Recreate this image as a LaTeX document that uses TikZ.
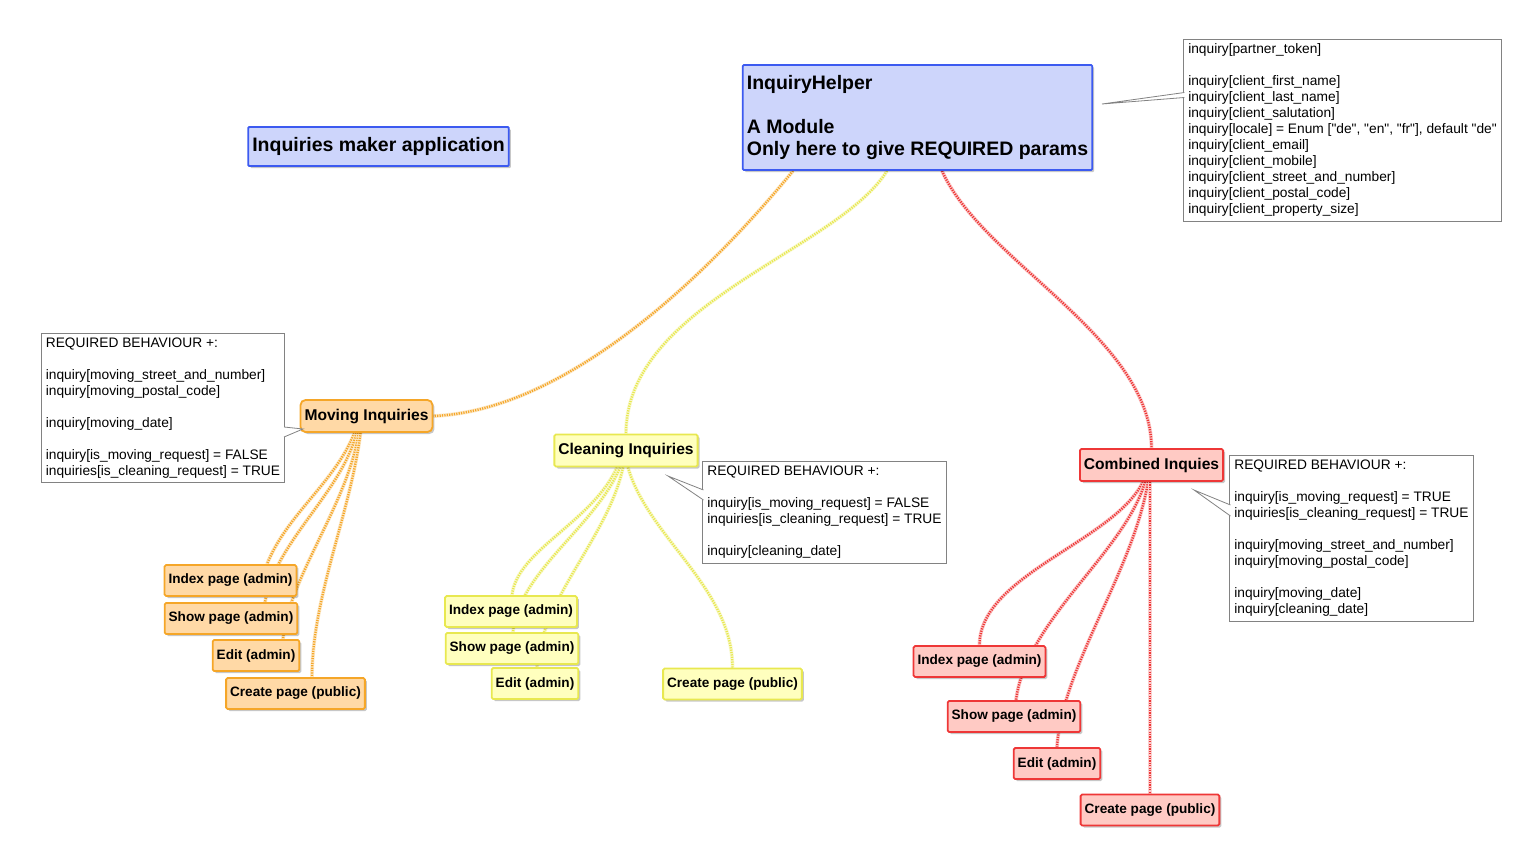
\documentclass[tikz,border=0pt]{standalone}
\usepackage{fontspec}
\setmainfont{Liberation Sans}[Ligatures=TeXOff]
\usetikzlibrary{shadows,backgrounds}
\definecolor{helperfill}{RGB}{205,213,251}
\definecolor{helperline}{RGB}{60,90,240}
\definecolor{movingfill}{RGB}{255,217,166}
\definecolor{movingline}{RGB}{245,166,40}
\definecolor{cleaningfill}{RGB}{255,255,190}
\definecolor{cleaningline}{RGB}{232,232,80}
\definecolor{combinedfill}{RGB}{255,202,196}
\definecolor{combinedline}{RGB}{238,55,55}
\definecolor{notegray}{RGB}{130,130,130}
\tikzset{
  shade/.style={drop shadow={shadow xshift=2pt,shadow yshift=-2pt,fill=black,opacity=0.22}},
  bigbox/.style={draw=helperline, fill=helperfill, line width=1.8pt, inner xsep=4pt,
    minimum height=39pt, rounded corners=1pt, shade,
    font=\bfseries\fontsize{19.5}{22.3}\selectfont},
  catbox/.style={draw=#1line, fill=#1fill, line width=1.8pt, inner xsep=4pt,
    minimum height=32pt, rounded corners=1.5pt, shade,
    font=\bfseries\fontsize{15.6}{18}\selectfont},
  pagebox/.style={draw=#1line, fill=#1fill, line width=1.8pt, inner xsep=4pt,
    minimum height=31pt, rounded corners=1.5pt, shade,
    font=\bfseries\fontsize{13.6}{16}\selectfont},
  note/.style={draw=notegray, fill=white, line width=0.8pt, align=left, inner sep=4.5pt,
    font=\fontsize{13.75}{16}\selectfont},
  pointer/.style={draw=notegray, fill=white, line width=0.8pt},
  link/.style={draw=#1, line width=2.4pt, dash pattern=on 1.2pt off 1.2pt,
    preaction={draw=#1!25, line width=3.8pt, solid}}
}
\begin{document}
\begin{tikzpicture}[x=1pt,y=-1pt]
  \useasboundingbox (0,0) rectangle (1532,865);

  % Main boxes
  \node[bigbox] (title) at (378.5,146.5) {Inquiries maker application};
  \node[bigbox, align=left, minimum height=105pt] (helper) at (917.5,117.5)
    {InquiryHelper\\[22.3pt]A Module\\Only here to give REQUIRED params};

  % Inquiry kinds
  \node[catbox=moving, rounded corners=5pt] (moving) at (366.5,416) {Moving Inquiries};
  \node[catbox=cleaning] (cleaning) at (626,450.5) {Cleaning Inquiries};
  \node[catbox=combined] (combined) at (1151.5,465) {Combined Inquies};

  % Pages
  \node[pagebox=moving] (mIndex) at (230.5,580.5) {Index page (admin)};
  \node[pagebox=moving] (mShow) at (231,618.5) {Show page (admin)};
  \node[pagebox=moving] (mEdit) at (256,655.5) {Edit (admin)};
  \node[pagebox=moving] (mCreate) at (295.5,693.5) {Create page (public)};

  \node[pagebox=cleaning] (cIndex) at (511,611.5) {Index page (admin)};
  \node[pagebox=cleaning] (cShow) at (512,648.5) {Show page (admin)};
  \node[pagebox=cleaning] (cEdit) at (535,683.5) {Edit (admin)};
  \node[pagebox=cleaning] (cCreate) at (732.5,684) {Create page (public)};

  \node[pagebox=combined] (bIndex) at (979.5,661.5) {Index page (admin)};
  \node[pagebox=combined] (bShow) at (1014,716.5) {Show page (admin)};
  \node[pagebox=combined] (bEdit) at (1057,763.5) {Edit (admin)};
  \node[pagebox=combined] (bCreate) at (1150,810) {Create page (public)};

  % Notes
  \node[note] (helperNote) at (1342.5,130) {inquiry[partner\_token]\\[16pt]%
    inquiry[client\_first\_name]\\inquiry[client\_last\_name]\\inquiry[client\_salutation]\\%
    inquiry[locale] = Enum ["de", "en", "fr"], default "de"\\inquiry[client\_email]\\%
    inquiry[client\_mobile]\\inquiry[client\_street\_and\_number]\\%
    inquiry[client\_postal\_code]\\inquiry[client\_property\_size]};
  \node[note] (movingNote) at (163,408) {REQUIRED BEHAVIOUR +:\\[16pt]%
    inquiry[moving\_street\_and\_number]\\inquiry[moving\_postal\_code]\\[16pt]%
    inquiry[moving\_date]\\[16pt]%
    inquiry[is\_moving\_request] = FALSE\\inquiries[is\_cleaning\_request] = TRUE};
  \node[note] (cleaningNote) at (824.5,512.5) {REQUIRED BEHAVIOUR +:\\[16pt]%
    inquiry[is\_moving\_request] = FALSE\\inquiries[is\_cleaning\_request] = TRUE\\[16pt]%
    inquiry[cleaning\_date]};
  \node[note] (combinedNote) at (1351.5,538.5) {REQUIRED BEHAVIOUR +:\\[16pt]%
    inquiry[is\_moving\_request] = TRUE\\inquiries[is\_cleaning\_request] = TRUE\\[16pt]%
    inquiry[moving\_street\_and\_number]\\inquiry[moving\_postal\_code]\\[16pt]%
    inquiry[moving\_date]\\inquiry[cleaning\_date]};

  % Note pointers
  \coordinate (helperTip) at (1102,104);
  \coordinate (movingTip) at (303,429);
  \coordinate (cleaningTip) at (668,476);
  \coordinate (combinedTip) at (1194,490);
  \path[pointer] ([xshift=1pt,yshift=37.5pt]helperNote.west) -- (helperTip) -- ([xshift=1pt,yshift=32.5pt]helperNote.west);
  \path[pointer] ([xshift=-1pt,yshift=-19pt]movingNote.east) -- (movingTip) -- ([xshift=-1pt,yshift=-29pt]movingNote.east);
  \path[pointer] ([xshift=1pt,yshift=22.5pt]cleaningNote.west) -- (cleaningTip) -- ([xshift=1pt,yshift=12.5pt]cleaningNote.west);
  \path[pointer] ([xshift=1pt,yshift=33.5pt]combinedNote.west) -- (combinedTip) -- ([xshift=1pt,yshift=22.5pt]combinedNote.west);

  % Connectors
  \begin{pgfonlayer}{background}
    \draw[link=movingline] ([xshift=-124.5pt]helper.south) .. controls +(-90,110) and +(130,-5) .. (moving.east);
    \draw[link=cleaningline] ([xshift=-30.5pt]helper.south) .. controls +(-50,80) and +(0,-130) .. (cleaning.north);
    \draw[link=combinedline] ([xshift=24.5pt]helper.south) .. controls +(40,90) and +(0,-110) .. (combined.north);

    \draw[link=movingline] ([xshift=-12pt]moving.south) .. controls +(-20,50) and +(20,-50) .. ([xshift=36.5pt]mIndex.north);
    \draw[link=movingline] ([xshift=-10pt]moving.south) .. controls +(-15,60) and +(10,-60) .. ([xshift=34pt]mShow.north);
    \draw[link=movingline] ([xshift=-8pt]moving.south) .. controls +(-10,70) and +(5,-60) .. ([xshift=27pt]mEdit.north);
    \draw[link=movingline] ([xshift=-6pt]moving.south) .. controls +(-10,80) and +(0,-80) .. ([xshift=16.5pt]mCreate.north);

    \draw[link=cleaningline] ([xshift=-9pt]cleaning.south) .. controls +(-25,55) and +(5,-45) .. ([xshift=1pt]cIndex.north);
    \draw[link=cleaningline] ([xshift=-6pt]cleaning.south) .. controls +(-25,60) and +(5,-60) .. ([xshift=1pt]cShow.north);
    \draw[link=cleaningline] ([xshift=-3pt]cleaning.south) .. controls +(-15,70) and +(5,-70) .. ([xshift=2pt]cEdit.north);
    \draw[link=cleaningline] ([xshift=2pt]cleaning.south) .. controls +(20,70) and +(0,-80) .. (cCreate.north);

    \draw[link=combinedline] ([xshift=-8.5pt]combined.south) .. controls +(-30,60) and +(0,-70) .. (bIndex.north);
    \draw[link=combinedline] ([xshift=-6.5pt]combined.south) .. controls +(-20,70) and +(10,-80) .. ([xshift=2pt]bShow.north);
    \draw[link=combinedline] ([xshift=-3.5pt]combined.south) .. controls +(-15,90) and +(5,-80) .. (bEdit.north);
    \draw[link=combinedline] ([xshift=-1.5pt]combined.south) -- (bCreate.north);
  \end{pgfonlayer}
\end{tikzpicture}
\end{document}
